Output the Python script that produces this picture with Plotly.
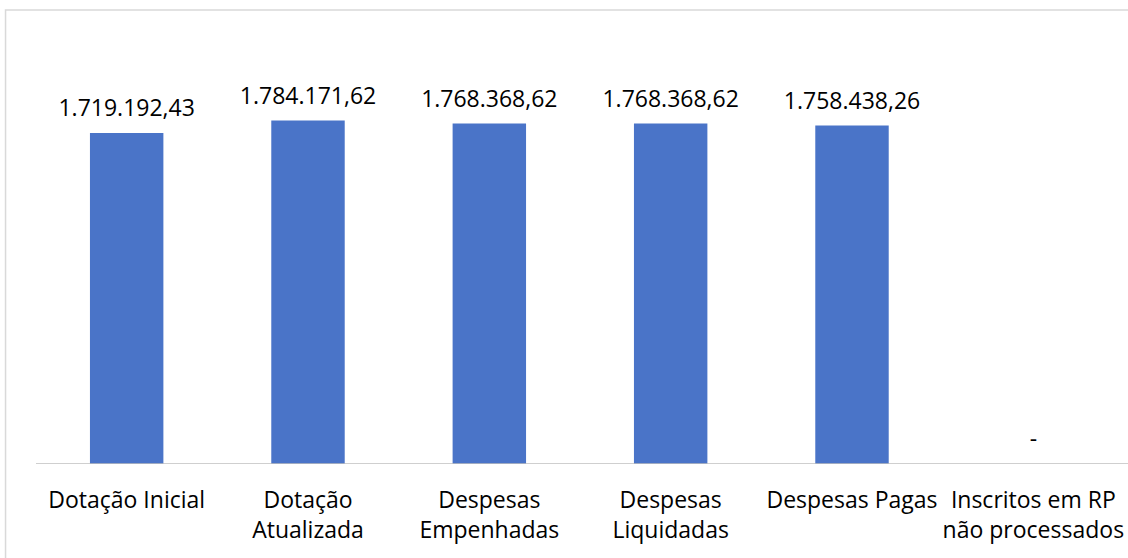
import plotly.graph_objects as go

categories = ["Dotação Inicial", "Dotação<br>Atualizada", "Despesas<br>Empenhadas",
              "Despesas<br>Liquidadas", "Despesas Pagas", "Inscritos em RP<br>não processados"]
values = [1719192.43, 1784171.62, 1768368.62, 1768368.62, 1758438.26, 0]
labels = ["1.719.192,43", "1.784.171,62", "1.768.368,62", "1.768.368,62", "1.758.438,26", "-"]

FONT = "Open Sans"

fig = go.Figure()
fig.add_trace(go.Bar(
    x=categories, y=values,
    marker=dict(color="#4A74C8", line=dict(width=0)),
    width=0.405,
    hoverinfo="skip",
))
fig.add_trace(go.Scatter(
    x=categories, y=values, mode="markers+text", text=labels,
    textposition="top center",
    marker=dict(size=16, color="rgba(0,0,0,0)"),
    textfont=dict(family=FONT, size=23, color="#000000"),
    cliponaxis=False, hoverinfo="skip",
))

fig.update_layout(
    width=1128, height=558,
    margin=dict(l=36, r=4, t=79, b=94),
    paper_bgcolor="white", plot_bgcolor="white",
    showlegend=False,
    hovermode=False,
    xaxis=dict(
        showgrid=False, zeroline=False,
        showline=False,
        ticks="", ticklabelstandoff=20,
        tickfont=dict(family=FONT, size=23, color="#000000"),
        fixedrange=True,
    ),
    yaxis=dict(
        range=[0, 2000000], visible=False, showgrid=False, zeroline=False,
        fixedrange=True,
    ),
    shapes=[
        dict(type="rect", xref="paper", yref="paper",
             x0=-0.028, x1=1.05, y0=-0.4, y1=1.179,
             line=dict(color="#D9D9D9", width=1.5), fillcolor="rgba(0,0,0,0)", layer="below"),
        dict(type="line", xref="paper", yref="y",
             x0=0, x1=1.01, y0=0, y1=0,
             line=dict(color="#BFBFBF", width=1.5), layer="above"),
    ],
)

fig.write_html(
    "out.html",
    config={"displayModeBar": False, "staticPlot": True},
    post_script="document.body.style.margin='0';document.body.style.overflow='hidden';",
)
